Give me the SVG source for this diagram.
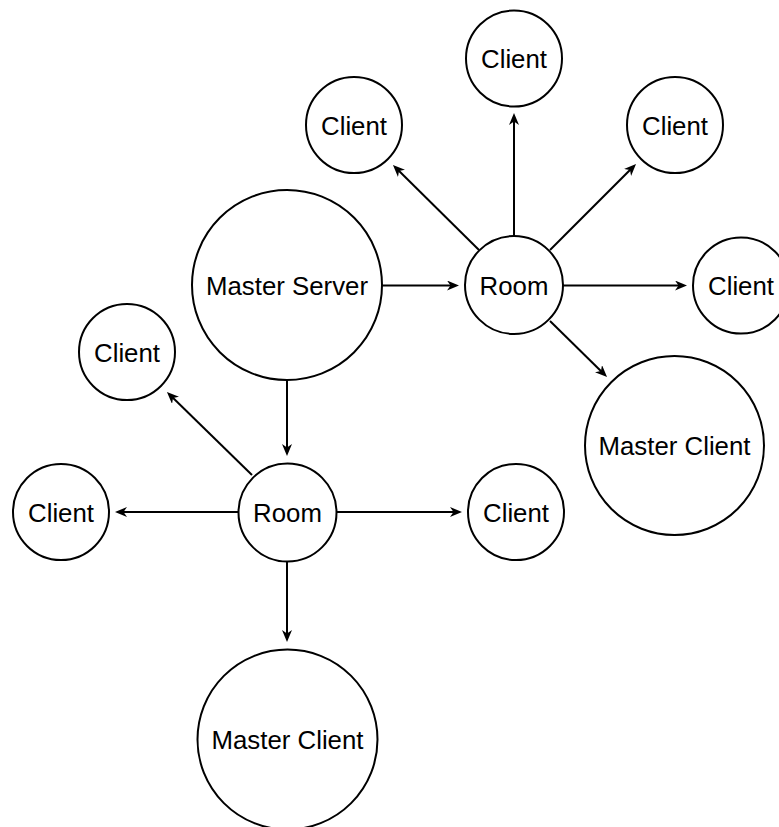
<svg xmlns="http://www.w3.org/2000/svg" width="779" height="827" viewBox="0 0 779 827">
  <style>
    .node circle { fill: #ffffff; stroke: #000000; stroke-width: 2; }
    .node text { font-family: "Liberation Sans", Arial, Helvetica, sans-serif; font-size: 25.8px; fill: #000000; text-anchor: middle; }
    .edge { stroke: #000000; stroke-width: 2; fill: none; marker-end: url(#arrow); }
  </style>
  <defs>
    <marker id="arrow" markerUnits="userSpaceOnUse" markerWidth="13" markerHeight="11" refX="8" refY="5" orient="auto">
      <path d="M0,0 L12,5 L0,10 L3.5,5 Z" fill="#000000"/>
    </marker>
  </defs>
  <rect width="779" height="827" fill="#ffffff"/>

  <!-- connectors -->
  <g id="connectors">
    <line class="edge" x1="382" y1="285.5" x2="455" y2="285.5"/>
    <line class="edge" x1="514" y1="236" x2="514" y2="117"/>
    <line class="edge" x1="479" y1="250" x2="395.8" y2="167.8"/>
    <line class="edge" x1="550" y1="250" x2="633.2" y2="166.8"/>
    <line class="edge" x1="563" y1="285.5" x2="683" y2="285.5"/>
    <line class="edge" x1="550" y1="321" x2="604.2" y2="374.2"/>
    <line class="edge" x1="287" y1="380" x2="287" y2="452"/>
    <line class="edge" x1="252" y1="475" x2="169.8" y2="394.8"/>
    <line class="edge" x1="238" y1="512" x2="119" y2="512"/>
    <line class="edge" x1="336.5" y1="512" x2="458" y2="512"/>
    <line class="edge" x1="287" y1="561.5" x2="287" y2="638"/>
  </g>

  <!-- nodes -->
  <g id="master-server" class="node">
    <circle cx="287" cy="285" r="95"/>
    <text x="287" y="294.5">Master Server</text>
  </g>
  <g id="room-1" class="node">
    <circle cx="514" cy="285" r="49"/>
    <text x="514" y="294.5">Room</text>
  </g>
  <g id="client-1-top" class="node">
    <circle cx="514" cy="58.5" r="48"/>
    <text x="514" y="68">Client</text>
  </g>
  <g id="client-1-upper-left" class="node">
    <circle cx="354" cy="125" r="48"/>
    <text x="354" y="134.5">Client</text>
  </g>
  <g id="client-1-upper-right" class="node">
    <circle cx="675" cy="125" r="48"/>
    <text x="675" y="134.5">Client</text>
  </g>
  <g id="client-1-right" class="node">
    <circle cx="741" cy="285.5" r="48"/>
    <text x="741" y="295">Client</text>
  </g>
  <g id="master-client-1" class="node">
    <circle cx="674.5" cy="445.5" r="89.5"/>
    <text x="674.5" y="455">Master Client</text>
  </g>
  <g id="room-2" class="node">
    <circle cx="287.5" cy="512.5" r="49"/>
    <text x="287.5" y="522">Room</text>
  </g>
  <g id="client-2-upper-left" class="node">
    <circle cx="127" cy="352" r="48"/>
    <text x="127" y="361.5">Client</text>
  </g>
  <g id="client-2-left" class="node">
    <circle cx="61" cy="512" r="48"/>
    <text x="61" y="521.5">Client</text>
  </g>
  <g id="client-2-right" class="node">
    <circle cx="516" cy="512" r="48"/>
    <text x="516" y="521.5">Client</text>
  </g>
  <g id="master-client-2" class="node">
    <circle cx="287.5" cy="739.5" r="90"/>
    <text x="287.5" y="749">Master Client</text>
  </g>
</svg>
